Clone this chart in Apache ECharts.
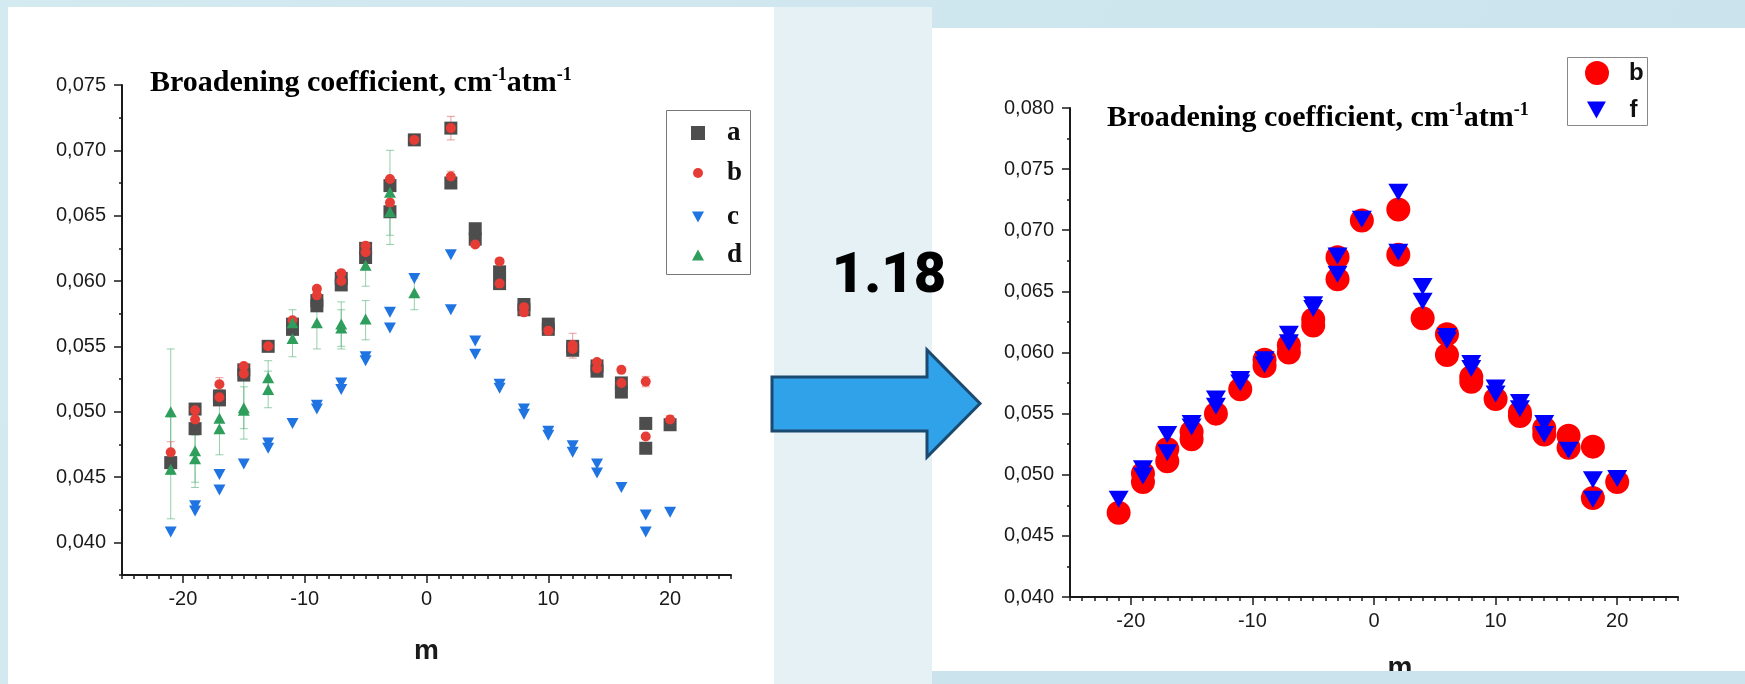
<!DOCTYPE html>
<html><head><meta charset="utf-8">
<script src="https://cdn.jsdelivr.net/npm/echarts@6/dist/echarts.min.js"></script>
<style>html,body{margin:0;padding:0;background:#d0e7ef}#c{width:1745px;height:684px}</style>
</head><body><div id="c"></div>
<script>
// ---- data ----
const mMajorTicks = [-20, -10, 0, 10, 20];
const yMajorLeft = [0.040, 0.045, 0.050, 0.055, 0.060, 0.065, 0.070, 0.075];
const yMajorRight = [0.040, 0.045, 0.050, 0.055, 0.060, 0.065, 0.070, 0.075, 0.080];

const seriesA = [[-21,0.0461],[-19,0.0502],[-19,0.0487],[-17,0.0512],[-17,0.0509],[-15,0.0532],[-15,0.0528],[-13,0.0550],[-11,0.0567],[-11,0.0563],[-9,0.0585],[-9,0.0581],[-7,0.0602],[-7,0.0597],[-5,0.0625],[-5,0.0618],[-3,0.0673],[-3,0.0653],[-1,0.0708],[2,0.0717],[2,0.0675],[4,0.0640],[4,0.0632],[6,0.0607],[6,0.0598],[8,0.0582],[8,0.0578],[10,0.0567],[10,0.0563],[12,0.0550],[12,0.0547],[14,0.0535],[14,0.0531],[16,0.0522],[16,0.0515],[18,0.0491],[18,0.0472],[20,0.0490]];
const seriesB = [[-21,0.0469],[-19,0.0501],[-19,0.0494],[-17,0.0521],[-17,0.0511],[-15,0.0535],[-15,0.0529],[-13,0.0550],[-11,0.0570],[-9,0.0594],[-9,0.0589],[-7,0.0606],[-7,0.0600],[-5,0.0627],[-5,0.0622],[-3,0.0678],[-3,0.0660],[-1,0.0708],[2,0.0717],[2,0.0680],[4,0.0628],[6,0.0615],[6,0.0598],[8,0.0580],[8,0.0576],[10,0.0562],[12,0.0551],[12,0.0548],[14,0.0538],[14,0.0533],[16,0.0532],[16,0.0522],[18,0.0523],[18,0.0481],[20,0.0494]];
const seriesC = [[-21,0.0408],[-19,0.0428],[-19,0.0424],[-17,0.0452],[-17,0.0440],[-15,0.0460],[-13,0.0476],[-13,0.0472],[-11,0.0491],[-9,0.0505],[-9,0.0502],[-7,0.0522],[-7,0.0517],[-5,0.0542],[-5,0.0539],[-3,0.0576],[-3,0.0564],[-1,0.0602],[2,0.0620],[2,0.0578],[4,0.0554],[4,0.0544],[6,0.0521],[6,0.0518],[8,0.0502],[8,0.0498],[10,0.0485],[10,0.0482],[12,0.0474],[12,0.0469],[14,0.0460],[14,0.0453],[16,0.0442],[18,0.0421],[18,0.0408],[20,0.0423]];
const seriesD = [[-21,0.0500],[-21,0.0456],[-19,0.0470],[-19,0.0464],[-17,0.0495],[-17,0.0487],[-15,0.0503],[-15,0.0501],[-13,0.0526],[-13,0.0517],[-11,0.0568],[-11,0.0556],[-9,0.0568],[-7,0.0567],[-7,0.0564],[-5,0.0612],[-5,0.0571],[-3,0.0668],[-3,0.0653],[-1,0.0591]];
const seriesF = [[-21,0.0480],[-19,0.0505],[-19,0.0499],[-17,0.0533],[-17,0.0518],[-15,0.0542],[-15,0.0539],[-13,0.0562],[-13,0.0556],[-11,0.0578],[-11,0.0575],[-9,0.0594],[-9,0.0590],[-7,0.0615],[-7,0.0608],[-5,0.0639],[-5,0.0636],[-3,0.0679],[-3,0.0664],[-1,0.0709],[2,0.0731],[2,0.0682],[4,0.0654],[4,0.0642],[6,0.0613],[6,0.0610],[8,0.0591],[8,0.0587],[10,0.0571],[10,0.0566],[12,0.0559],[12,0.0554],[14,0.0542],[14,0.0533],[16,0.0520],[18,0.0496],[18,0.0480],[20,0.0497]];
// error bars: [m, low, high]
const errD = [[-21,0.0452,0.0548],[-21,0.0418,0.0496],[-19,0.0442,0.0490],[-19,0.0446,0.0482],[-17,0.0467,0.0523],[-15,0.0479,0.0527],[-15,0.0487,0.0519],[-13,0.0503,0.0539],[-13,0.0513,0.0531],[-11,0.0542,0.0578],[-9,0.0548,0.0588],[-7,0.0548,0.0584],[-7,0.0550,0.0578],[-5,0.0596,0.0628],[-5,0.0555,0.0585],[-3,0.0635,0.0700],[-3,0.0628,0.0678],[-1,0.0578,0.0602]];
const errB = [[2,0.0708,0.0726],[2,0.0675,0.0684],[-21,0.0465,0.0477],[12,0.0541,0.0560],[18,0.0519,0.0527],[20,0.0491,0.0497],[-17,0.0517,0.0526]];
const titleText = 'Broadening coefficient, cm';
const ratioText = '1.18';

// ---- chart ----
const INK = '#1a1a1a';
const DOWN = 'path://M0,0 L10,0 L5,9 Z';
const yFmt = v => (Math.abs(v * 200 - Math.round(v * 200)) < 1e-6 ? v.toFixed(3).replace('.', ',') : '');
const xFmt = v => (Math.abs(v % 10) < 1e-9 ? String(Math.round(v)) : '');
const tickFont = {fontFamily: 'Liberation Sans', fontSize: 20, color: INK};

function xMain(grid, nameGap, namePad) {
  return {type: 'value', gridIndex: grid, min: -25, max: 25, interval: 1, position: 'bottom',
    axisLine: {show: true, onZero: false, lineStyle: {color: INK, width: 2}},
    axisTick: {show: true, length: 4, lineStyle: {color: INK, width: 1.5}},
    axisLabel: Object.assign({formatter: xFmt, margin: 14}, tickFont),
    splitLine: {show: false},
    name: 'm', nameLocation: 'middle', nameGap: nameGap,
    nameTextStyle: {fontFamily: 'Liberation Sans', fontWeight: 'bold', fontSize: 28, color: INK, padding: namePad}};
}
function xMajor(grid) {
  return {type: 'value', gridIndex: grid, min: -25, max: 25, position: 'bottom',
    axisLine: {show: false, onZero: false}, axisLabel: {show: false}, splitLine: {show: false},
    axisTick: {show: true, length: 8, customValues: mMajorTicks, lineStyle: {color: INK, width: 1.5}}};
}
function yMain(grid, min, max) {
  return {type: 'value', gridIndex: grid, min: min, max: max, interval: 0.0025, position: 'left',
    axisLine: {show: true, onZero: false, lineStyle: {color: INK, width: 2}},
    axisTick: {show: true, length: 3, lineStyle: {color: INK, width: 1.5}},
    axisLabel: Object.assign({formatter: yFmt, margin: 16}, tickFont),
    splitLine: {show: false}};
}
function yMajor(grid, min, max, ticks) {
  return {type: 'value', gridIndex: grid, min: min, max: max, position: 'left',
    axisLine: {show: false, onZero: false}, axisLabel: {show: false}, splitLine: {show: false},
    axisTick: {show: true, length: 8, customValues: ticks, lineStyle: {color: INK, width: 1.5}}};
}
function errRender(color) {
  return function (params, api) {
    const x = api.value(0), lo = api.value(1), hi = api.value(2);
    const p1 = api.coord([x, hi]), p2 = api.coord([x, lo]);
    const w = 4, st = {stroke: color, lineWidth: 1};
    return {type: 'group', children: [
      {type: 'line', shape: {x1: p1[0], y1: p1[1], x2: p2[0], y2: p2[1]}, style: st},
      {type: 'line', shape: {x1: p1[0] - w, y1: p1[1], x2: p1[0] + w, y2: p1[1]}, style: st},
      {type: 'line', shape: {x1: p2[0] - w, y1: p2[1], x2: p2[0] + w, y2: p2[1]}, style: st}
    ]};
  };
}
const legSerif = {fontFamily: 'Liberation Serif', fontWeight: 'bold', fontSize: 27, color: '#111', lineHeight: 30};
const legSans = {fontFamily: 'Liberation Sans', fontWeight: 'bold', fontSize: 24, color: '#111', lineHeight: 30};
function leg(name, label, left, top, w, h, ts, pad) {
  return {data: [name], left: left, top: top, orient: 'vertical', itemWidth: w, itemHeight: h, padding: 0,
    selectedMode: false, formatter: () => label, textStyle: Object.assign({}, ts, {padding: [0, 0, 0, pad]})};
}
const titleRich = {
  t: {fontFamily: 'Liberation Serif', fontWeight: 'bold', fontSize: 30, color: '#111', lineHeight: 34},
  s: {fontFamily: 'Liberation Serif', fontWeight: 'bold', fontSize: 18, color: '#111', lineHeight: 18, verticalAlign: 'top'}
};
const titleStr = '{t|' + titleText + '}{s|-1}{t|atm}{s|-1}';

const option = {
  backgroundColor: {type: 'linear', x: 0, y: 0, x2: 1, y2: 1, colorStops: [{offset: 0, color: '#d4eaf1'}, {offset: 1, color: '#c9e2ec'}]},
  animation: false,
  grid: [
    {left: 122, top: 85, width: 609, height: 490, containLabel: false, outerBoundsMode: 'none'},
    {left: 1070, top: 108, width: 608, height: 489, containLabel: false, outerBoundsMode: 'none'}
  ],
  xAxis: [xMain(0, 62, 0), xMajor(0), xMain(1, 57, [0, 0, 0, 52]), xMajor(1)],
  yAxis: [yMain(0, 0.0375, 0.075), yMajor(0, 0.0375, 0.075, yMajorLeft), yMain(1, 0.040, 0.080), yMajor(1, 0.040, 0.080, yMajorRight)],
  legend: [
    leg('a', 'a', 691, 118, 14, 14, legSerif, 17),
    leg('b', 'b', 693, 158, 10, 10, legSerif, 19),
    leg('c', 'c', 692, 202, 12, 11, legSerif, 18),
    leg('d', 'd', 692, 240, 12, 11, legSerif, 18),
    leg('bR', 'b', 1585, 58, 24, 24, legSans, 15),
    leg('f', 'f', 1587, 95, 20, 17, legSans, 18)
  ],
  graphic: [
    {type: 'rect', z: -100, shape: {x: 774, y: 7, width: 158, height: 677}, style: {fill: '#e6f1f5'}},
    {type: 'rect', z: -100, shape: {x: 8, y: 7, width: 766, height: 677}, style: {fill: '#ffffff'}},
    {type: 'rect', z: -100, shape: {x: 932, y: 28, width: 813, height: 643}, style: {fill: '#ffffff'}},
    {type: 'rect', z: 100, shape: {x: 932, y: 671, width: 813, height: 13}, style: {fill: '#cbe3ed'}},
    {type: 'rect', z: -50, shape: {x: 666.5, y: 110.5, width: 84, height: 164}, style: {fill: '#fff', stroke: '#777', lineWidth: 1}},
    {type: 'rect', z: -50, shape: {x: 1567.5, y: 57.5, width: 80, height: 68}, style: {fill: '#fff', stroke: '#888', lineWidth: 1}},
    {type: 'text', z: 10, x: 150, y: 66, style: {text: titleStr, rich: titleRich}},
    {type: 'text', z: 10, x: 1107, y: 101, style: {text: titleStr, rich: titleRich}},
    {type: 'polygon', z: 20, shape: {points: [[772,377],[927,377],[927,350],[980,403.5],[927,457],[927,431],[772,431]]},
      style: {fill: '#30a2ea', stroke: '#1b4a70', lineWidth: 3}},
    {type: 'text', z: 20, x: 889, y: 278, style: {text: ratioText, fontFamily: 'Roboto', fontWeight: 900, fontSize: 56, fill: '#000', align: 'center', verticalAlign: 'middle'}}
  ],
  series: [
    {type: 'custom', name: 'errD', xAxisIndex: 0, yAxisIndex: 0, z: 1, data: errD, encode: {x: 0, y: [1, 2]}, renderItem: errRender('rgba(80,175,115,0.6)')},
    {type: 'custom', name: 'errB', xAxisIndex: 0, yAxisIndex: 0, z: 1, data: errB, encode: {x: 0, y: [1, 2]}, renderItem: errRender('rgba(225,90,90,0.6)')},
    {type: 'scatter', name: 'a', xAxisIndex: 0, yAxisIndex: 0, data: seriesA, symbol: 'rect', symbolSize: 13, itemStyle: {color: '#4d4d4d', opacity: 1}},
    {type: 'scatter', name: 'b', xAxisIndex: 0, yAxisIndex: 0, data: seriesB, symbol: 'circle', symbolSize: 10, itemStyle: {color: '#e63c36', opacity: 1}},
    {type: 'scatter', name: 'c', xAxisIndex: 0, yAxisIndex: 0, data: seriesC, symbol: DOWN, symbolSize: [12, 11], itemStyle: {color: '#1f74e2', opacity: 1}},
    {type: 'scatter', name: 'd', xAxisIndex: 0, yAxisIndex: 0, data: seriesD, symbol: 'triangle', symbolSize: [12, 11], itemStyle: {color: '#2f9e5c', opacity: 1}},
    {type: 'scatter', name: 'bR', xAxisIndex: 2, yAxisIndex: 2, data: seriesB, symbol: 'circle', symbolSize: 24, itemStyle: {color: '#ff0000', opacity: 1}},
    {type: 'scatter', name: 'f', xAxisIndex: 2, yAxisIndex: 2, data: seriesF, symbol: DOWN, symbolSize: [20, 17], itemStyle: {color: '#0000ff', opacity: 1}}
  ]
};
const chart = echarts.init(document.getElementById('c'), null, {renderer: 'canvas'});
chart.setOption(option);
</script></body></html>
